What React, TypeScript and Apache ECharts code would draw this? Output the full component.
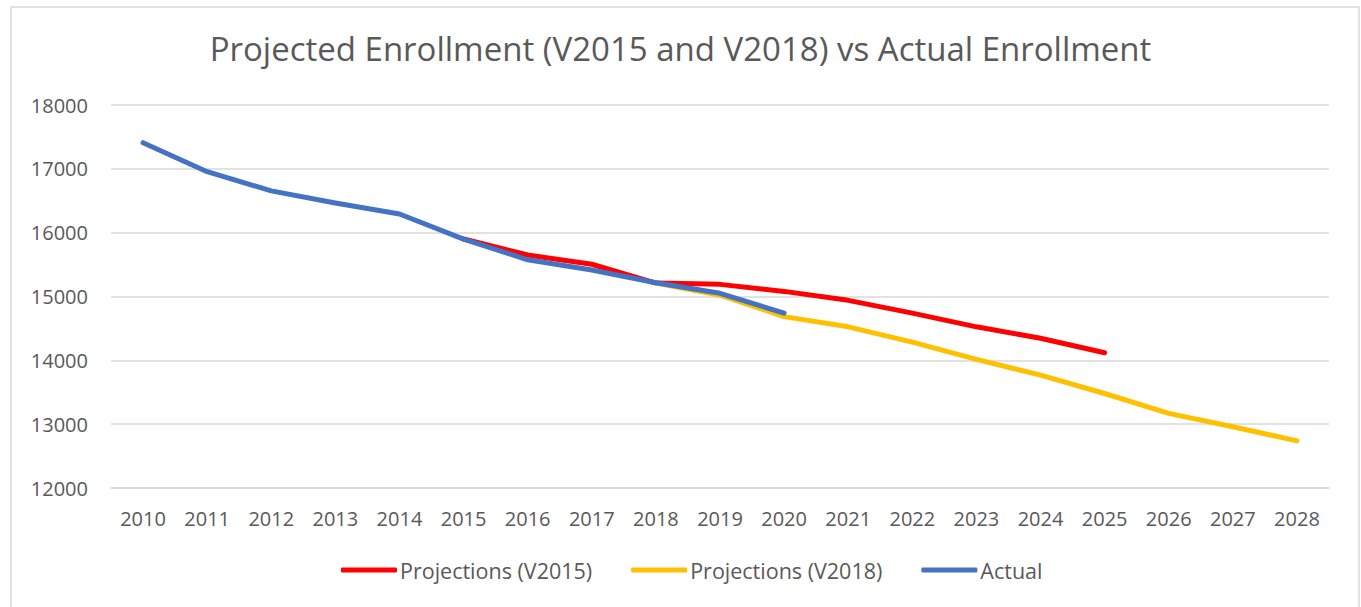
import React, { useEffect, useRef } from "react";
import * as echarts from "echarts";

const years = ["2010","2011","2012","2013","2014","2015","2016","2017","2018","2019","2020","2021","2022","2023","2024","2025","2026","2027","2028"];
const projV2015 = [null,null,null,null,null,15900,15650,15505,15210,15190,15080,14940,14740,14525,14345,14118,null,null,null];
const projV2018 = [null,null,null,null,null,null,null,null,15210,15020,14685,14525,14285,14014,13768,13480,13169,12959,12739];
const actual = [17410,16955,16655,16464,16292,15900,15575,15414,15215,15050,14740,null,null,null,null,null,null,null,null];
const yTicks = { min: 12000, max: 18000, interval: 1000 };

const FONT = "'Open Sans', 'Noto Sans', sans-serif";
const TXT = "#595959";

export default function App() {
  const ref = useRef<HTMLDivElement>(null);
  useEffect(() => {
    document.body.style.margin = "0";
    const chart = echarts.init(ref.current!, null, { renderer: "svg" });
    const mk = (name: string, data: any[], color: string) => ({
      name,
      type: "line",
      data,
      symbol: "none",
      showSymbol: false,
      connectNulls: false,
      lineStyle: { color, width: 5, cap: "round", join: "round" },
      itemStyle: { color },
    });
    chart.setOption({
      animation: false,
      backgroundColor: "#ffffff",
      textStyle: { fontFamily: FONT },
      graphic: [
        {
          type: "rect",
          shape: { x: 11, y: 7, width: 1348, height: 620 },
          style: { fill: "none", stroke: "#d9d9d9", lineWidth: 1.5 },
          silent: true,
        },
      ],
      title: {
        text: "Projected Enrollment (V2015 and V2018) vs Actual Enrollment",
        left: "center",
        top: 27,
        textStyle: { fontFamily: FONT, fontSize: 33, fontWeight: "normal", color: TXT },
      },
      legend: {
        bottom: 21,
        left: 336,
        itemWidth: 56,
        itemHeight: 5,
        itemGap: 39,
        icon: "roundRect",
        textStyle: { fontFamily: FONT, fontSize: 21.5, color: TXT, padding: [0, 0, 0, -2] },
        data: ["Projections (V2015)", "Projections (V2018)", "Actual"],
      },
      grid: { left: 111, right: 32, top: 105, bottom: 119, containLabel: false },
      xAxis: {
        type: "category",
        data: years,
        boundaryGap: true,
        axisLine: { show: true, lineStyle: { color: "#d9d9d9", width: 1.5 } },
        axisTick: { show: false },
        axisLabel: { color: TXT, fontSize: 20, fontFamily: FONT, margin: 20 },
      },
      yAxis: {
        type: "value",
        min: yTicks.min,
        max: yTicks.max,
        interval: yTicks.interval,
        axisLine: { show: false },
        axisTick: { show: false },
        axisLabel: { color: TXT, fontSize: 20, fontFamily: FONT, margin: 23, formatter: (v: number) => String(v) },
        splitLine: { lineStyle: { color: "#d9d9d9", width: 1.5 } },
      },
      series: [
        mk("Projections (V2015)", projV2015, "#FF0000"),
        mk("Projections (V2018)", projV2018, "#FFC000"),
        mk("Actual", actual, "#4472C4"),
      ],
    });
    return () => chart.dispose();
  }, []);
  return <div ref={ref} style={{ width: 1361, height: 607 }} />;
}
